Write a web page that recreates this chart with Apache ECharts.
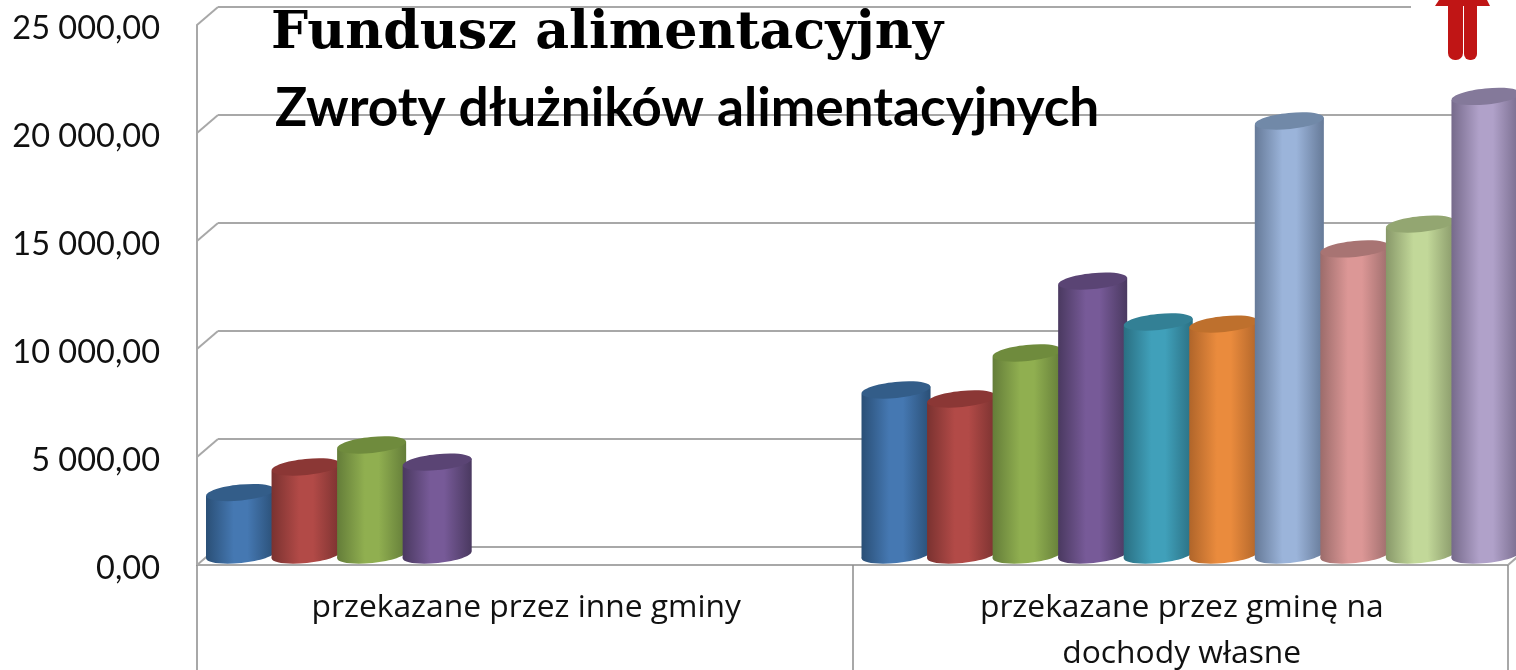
<!DOCTYPE html>
<html>
<head>
<meta charset="utf-8">
<title>Fundusz alimentacyjny</title>
<script src="https://cdn.jsdelivr.net/npm/echarts@6/dist/echarts.min.js"></script>
<style>
  html,body{margin:0;padding:0;background:#fff;}
  #chart{width:1516px;height:670px;}
</style>
</head>
<body>
<div id="chart"></div>
<script>
// dane
const categories = ['przekazane przez inne gminy', 'przekazane przez gminę na\ndochody własne']
const yTicks = [0, 5000, 10000, 15000, 20000, 25000]
const bar1 = [2890, 7640]
const bar2 = [4075, 7220]
const bar3 = [5090, 9350]
const bar4 = [4300, 12680]
const bar5 = [null, 10790]
const bar6 = [null, 10690]
const bar7 = [null, 20090]
const bar8 = [null, 14170]
const bar9 = [null, 15320]
const bar10 = [null, 21230]
const allBars = [bar1, bar2, bar3, bar4, bar5, bar6, bar7, bar8, bar9, bar10]

// kolory walcow: krawedz, srodek, wieczko
const barColors = [
  ['#2a4f76', '#4578b2', '#335d89'],
  ['#7a3230', '#b24a47', '#8b3735'],
  ['#647d39', '#90af50', '#6f8b3d'],
  ['#4a3960', '#775a98', '#5a4474'],
  ['#2a6f82', '#40a0ba', '#338095'],
  ['#b0652a', '#ea8b3d', '#be702d'],
  ['#667a98', '#9bb4da', '#7189a8'],
  ['#9c6c6b', '#dc9796', '#a87473'],
  ['#889869', '#c2d899', '#93a671'],
  ['#766a8b', '#b0a1c9', '#84799a']
]

const depthX = 9   // przesuniecie walca wzgledem przedniej osi
const depthY = 10
const wallX = 21
const wallY = 18
const overlap = 3.5 // walce lekko na siebie nachodza

function moneyLabel(v){
  return v === 0 ? '0,00' : String(v).replace(/(\d{3})$/, ' $1') + ',00'
}

function renderCylinder(params, api){
  const s = params.seriesIndex - 1
  const cat = api.value(0)
  const val = api.value(1)
  const band = api.size([1, 0])[0]
  const slot = band / 10
  const center = api.coord([cat, 0])[0]
  const left = center - band / 2 + depthX + slot * s
  const right = left + slot + overlap
  const cx = (left + right) / 2
  const yBase = api.coord([cat, 0])[1] - depthY
  const yTop = api.coord([cat, val])[1] - depthY
  const rx = (right - left) / 2
  const ry = 8
  const tilt = 3.5
  const c = barColors[s]
  const fill = new echarts.graphic.LinearGradient(0, 0, 1, 0, [
    {offset: 0, color: c[0]},
    {offset: 0.4, color: c[1]},
    {offset: 0.6, color: c[1]},
    {offset: 1, color: c[0]}
  ])
  const angle = Math.atan2(tilt, rx)
  return {
    type: 'group',
    children: [
      {type: 'ellipse', shape: {cx: cx, cy: yBase, rx: rx, ry: ry}, rotation: angle, originX: cx, originY: yBase, style: {fill: fill}},
      {type: 'polygon', shape: {points: [[left, yTop + tilt], [right, yTop - tilt], [right, yBase - tilt], [left, yBase + tilt]]}, style: {fill: fill}},
      {type: 'ellipse', shape: {cx: cx, cy: yTop, rx: rx, ry: ry}, rotation: angle, originX: cx, originY: yTop, style: {fill: c[2]}}
    ]
  }
}

// ukosne kreski sciany bocznej
function renderDiagonal(params, api){
  const y = api.coord([0, api.value(1)])[1]
  const sys = params.coordSys
  const lineStyle = {stroke: '#a8a8a8', lineWidth: 2}
  const items = [{type: 'line', shape: {x1: sys.x, y1: y, x2: sys.x + wallX, y2: y - wallY}, style: lineStyle}]
  if(api.value(1) === 0){
    items.push({type: 'line', shape: {x1: sys.x + sys.width, y1: y, x2: sys.x + sys.width + wallX, y2: y - wallY}, style: lineStyle})
  }
  return {type: 'group', children: items}
}

const barSeries = allBars.map((values, i) => {
  const rows = []
  values.forEach((v, idx) => {
    if(v !== null) rows.push([idx, v])
  })
  return {
    type: 'custom',
    name: 'Seria ' + (i + 1),
    xAxisIndex: 1,
    yAxisIndex: 1,
    renderItem: renderCylinder,
    encode: {x: 0, y: 1},
    data: rows,
    z: 5,
    silent: true
  }
})

const chart = echarts.init(document.getElementById('chart'))
chart.setOption({
  animation: false,
  title: [
    {
      text: 'Fundusz alimentacyjny',
      left: 266,
      top: -1,
      textStyle: {fontFamily: 'DejaVu Serif', fontWeight: 'bold', fontSize: 52.3, color: '#000', lineHeight: 60}
    },
    {
      text: 'Zwroty dłużników alimentacyjnych',
      left: 270,
      top: 74,
      textStyle: {fontFamily: 'Lato', fontWeight: 'bold', fontSize: 53.2, color: '#000', lineHeight: 60}
    }
  ],
  grid: [
    {left: 218, top: 7, width: 1311, height: 540, outerBoundsMode: 'none'},
    {left: 197, top: 25, width: 1311, height: 540, outerBoundsMode: 'none'}
  ],
  xAxis: [
    {type: 'category', gridIndex: 0, data: categories, axisLine: {show: false}, axisTick: {show: false}, axisLabel: {show: false}},
    {
      type: 'category',
      gridIndex: 1,
      data: categories,
      axisLine: {show: true, lineStyle: {color: '#a8a8a8', width: 2}},
      axisTick: {show: true, length: 105, lineStyle: {color: '#8c8c8c', width: 1.5}},
      axisLabel: {
        interval: 0,
        margin: 20,
        fontFamily: 'Open Sans',
        fontSize: 31.8,
        lineHeight: 46,
        color: '#111',
        verticalAlign: 'top',
        padding: [0, 0, 0, 3]
      }
    }
  ],
  yAxis: [
    {
      type: 'value',
      gridIndex: 0,
      min: 0,
      max: 25000,
      interval: 5000,
      axisLine: {show: false},
      axisTick: {show: false},
      axisLabel: {show: false},
      splitLine: {lineStyle: {color: '#a8a8a8', width: 2}}
    },
    {
      type: 'value',
      gridIndex: 1,
      min: 0,
      max: 25000,
      interval: 5000,
      axisLine: {show: true, lineStyle: {color: '#a8a8a8', width: 2}},
      axisTick: {show: false},
      splitLine: {show: false},
      axisLabel: {
        margin: 37,
        fontFamily: 'Lato',
        fontSize: 32.5,
        color: '#111',
        verticalAlign: 'top',
        lineHeight: 7,
        formatter: moneyLabel
      }
    }
  ],
  series: [
    {
      type: 'custom',
      xAxisIndex: 1,
      yAxisIndex: 1,
      renderItem: renderDiagonal,
      encode: {y: 1},
      data: yTicks.map(t => [0, t]),
      z: 1,
      silent: true
    }
  ].concat(barSeries),
  graphic: [
    {type: 'rect', shape: {x: 1411, y: 0, width: 105, height: 22}, style: {fill: '#fff'}, z: 20},
    {type: 'polygon', shape: {points: [[1439, 0], [1487, 0], [1490, 6], [1435, 6]]}, style: {fill: '#c01515'}, z: 21},
    {type: 'rect', shape: {x: 1448, y: 0, width: 15, height: 60, r: [0, 0, 7, 7]}, style: {fill: '#c01515'}, z: 21},
    {type: 'rect', shape: {x: 1464, y: 0, width: 13, height: 60, r: [0, 0, 6, 6]}, style: {fill: '#c01515'}, z: 21}
  ]
})
</script>
</body>
</html>
